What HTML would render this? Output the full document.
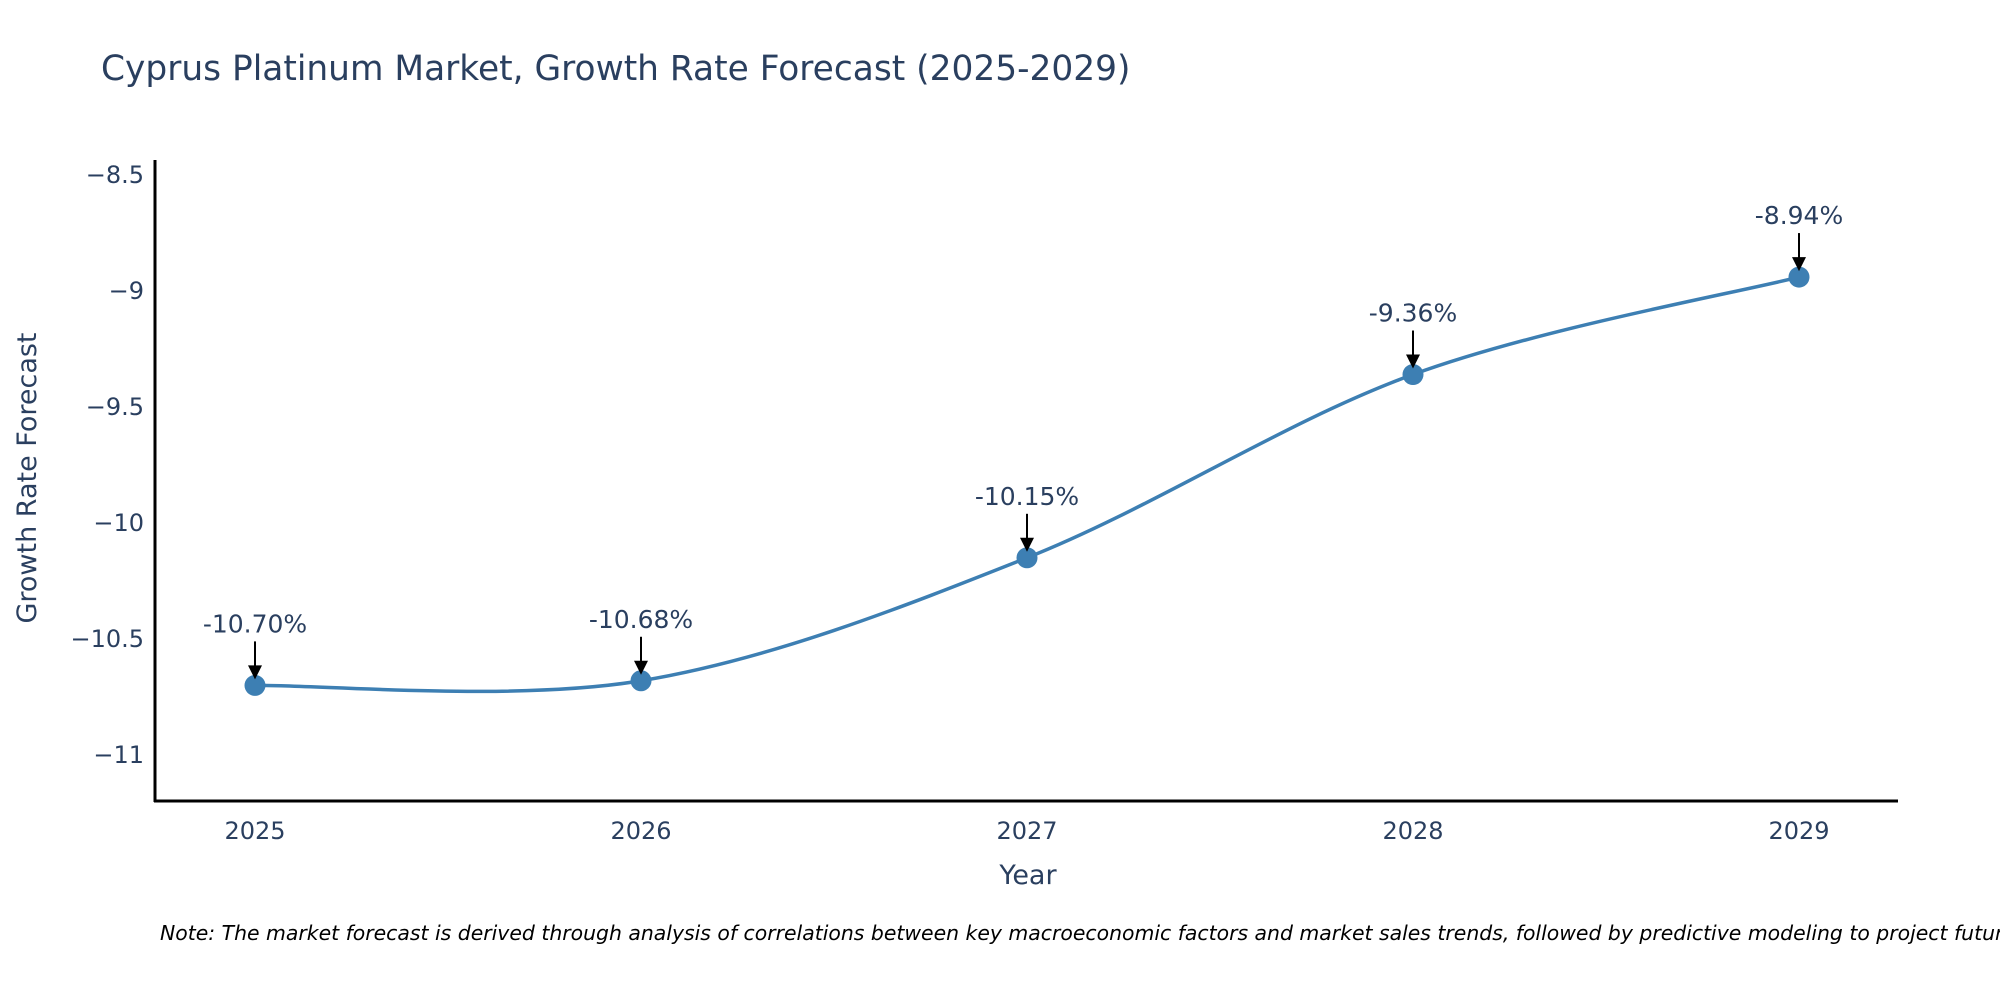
<!DOCTYPE html>
<html><head><meta charset="utf-8"><style>
body{margin:0;background:#fff;}
svg text{font-family:"DejaVu Sans","Liberation Sans",sans-serif;fill:#2a3f5f;}
</style></head><body>
<svg id="chart" width="2000" height="1000" xmlns="http://www.w3.org/2000/svg">
<text x="101" y="80" font-size="34.4">Cyprus Platinum Market, Growth Rate Forecast (2025-2029)</text>
<g id="yticks"></g>
<g id="xticks"></g>
<line x1="155" y1="160" x2="155" y2="802" stroke="#000" stroke-width="3"/>
<line x1="154" y1="801" x2="1898" y2="801" stroke="#000" stroke-width="3"/>
<g id="series"></g>
<g id="annots"></g>
<text transform="translate(36,478) rotate(-90)" text-anchor="middle" font-size="27">Growth Rate Forecast</text>
<text x="1028" y="884" text-anchor="middle" font-size="27">Year</text>
<text x="160" y="940" font-size="20.4" font-style="italic" style="fill:#000">Note: The market forecast is derived through analysis of correlations between key macroeconomic factors and market sales trends, followed by predictive modeling to project future sales.</text>
</svg>
<script>
const years = [2025, 2026, 2027, 2028, 2029];
const growth = [-10.70, -10.68, -10.15, -9.36, -8.94];
const yTickVals = [-8.5, -9, -9.5, -10, -10.5, -11];
const yTickLabels = ["−8.5", "−9", "−9.5", "−10", "−10.5", "−11"];

const NS = "http://www.w3.org/2000/svg";
function xs(v){ return 255 + (v - 2025) * 386; }
function ys(v){ return 755 - (v + 11) * 232; }
function mk(tag, attrs, parent){ const e = document.createElementNS(NS, tag); for (const k in attrs) e.setAttribute(k, attrs[k]); parent.appendChild(e); return e; }

const yt = document.getElementById('yticks');
yTickVals.forEach((v, i) => {
  const t = mk('text', {x: 144, y: ys(v) + 8, 'text-anchor': 'end', 'font-size': 24}, yt);
  
  
  t.textContent = yTickLabels[i];
});
const xt = document.getElementById('xticks');
years.forEach(y => {
  const t = mk('text', {x: xs(y), y: 839, 'text-anchor': 'middle', 'font-size': 24}, xt);
  
  
  t.textContent = String(y);
});

const pts = years.map((y, i) => [xs(y), ys(growth[i])]);
let d = `M${pts[0][0]},${pts[0][1]}`;
for (let i = 0; i < pts.length - 1; i++) {
  const p0 = pts[Math.max(0, i - 1)], p1 = pts[i], p2 = pts[i + 1], p3 = pts[Math.min(pts.length - 1, i + 2)];
  const c1 = [p1[0] + (p2[0] - p0[0]) / 6, p1[1] + (p2[1] - p0[1]) / 6];
  const c2 = [p2[0] - (p3[0] - p1[0]) / 6, p2[1] - (p3[1] - p1[1]) / 6];
  d += ` C${c1[0]},${c1[1]} ${c2[0]},${c2[1]} ${p2[0]},${p2[1]}`;
}
const sg = document.getElementById('series');
const line = mk('path', {d: d, fill: 'none', stroke: '#3d7fb3', 'stroke-width': 3.5}, sg);


pts.forEach(p => {
  const c = mk('circle', {cx: p[0], cy: p[1], r: 10.5, fill: '#3d7fb3'}, sg);
  
  
});

const an = document.getElementById('annots');
pts.forEach((p, i) => {
  const l = mk('line', {x1: p[0], y1: p[1] - 44, x2: p[0], y2: p[1] - 14, stroke: '#000', 'stroke-width': 2}, an);
  
  
  const h = mk('polygon', {points: `${p[0]-7},${p[1]-20} ${p[0]+7},${p[1]-20} ${p[0]},${p[1]-6}`, fill: '#000'}, an);
  
  
  const t = mk('text', {x: p[0], y: p[1] - 53, 'text-anchor': 'middle', 'font-size': 25}, an);
  
  
  t.textContent = growth[i].toFixed(2) + '%';
});
</script>
</body></html>
